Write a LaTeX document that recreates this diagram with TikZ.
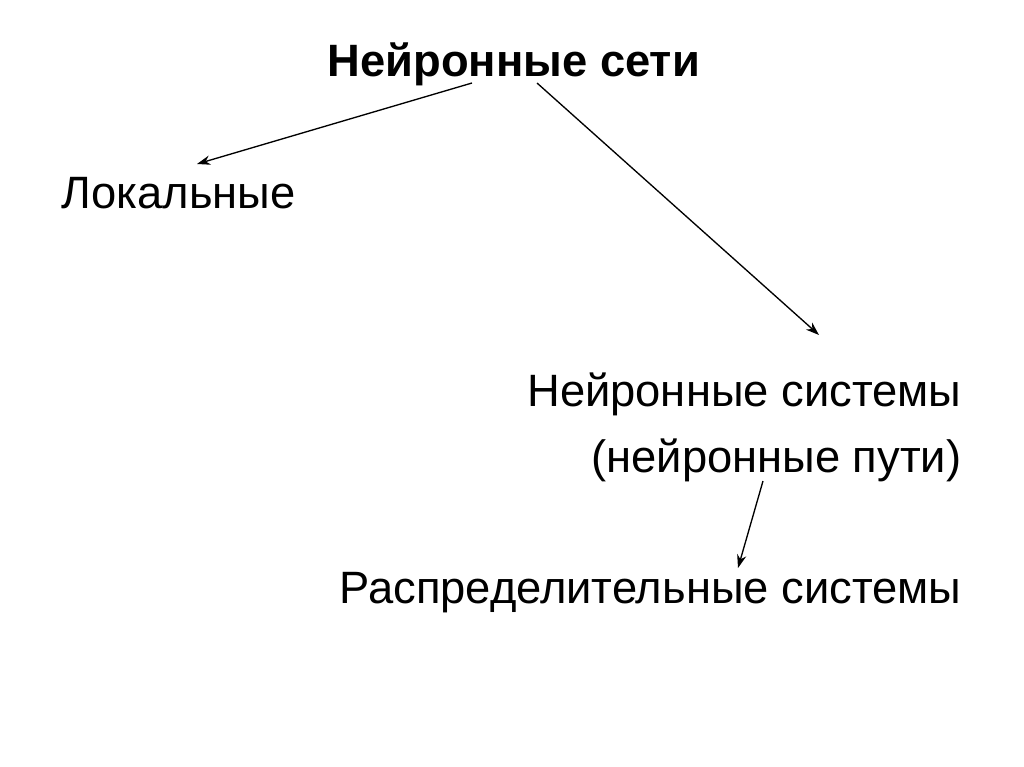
\documentclass[tikz,border=0pt]{standalone}
\usepackage{fontspec}
\setmainfont{Liberation Sans}
\usetikzlibrary{arrows.meta}

\begin{document}
\begin{tikzpicture}[x=0.75pt, y=-0.75pt, ->, >={Stealth[length=10pt,width=7pt]},
      line width=1pt, word/.style={inner sep=0pt, font=\fontsize{34}{40}\selectfont},
      head/.style={word, font=\fontsize{34}{40}\selectfont\bfseries}]
    \useasboundingbox (0,0) rectangle (1024,767);

    \node[head, anchor=base west] (nets) at (327,77) {Нейронные сети};
    \node[word, anchor=base west] (local) at (61,208) {Локальные};
    \node[word, anchor=base east] (systems) at (962,406) {Нейронные системы};
    \node[word, anchor=base east] (paths) at (962,472) {(нейронные пути)};
    \node[word, anchor=base east] (distr) at (962,603) {Распределительные системы};

    \coordinate (netsL) at (472,83);
    \coordinate (netsR) at (537,83);
    \coordinate (localT) at (197,164);
    \coordinate (systemsT) at (819,335);
    \coordinate (pathsB) at (763,481);
    \coordinate (distrT) at (738,568);

    \draw (netsL) -- (localT);
    \draw (netsR) -- (systemsT);
    \draw (pathsB) -- (distrT);
  \end{tikzpicture}
\end{document}
